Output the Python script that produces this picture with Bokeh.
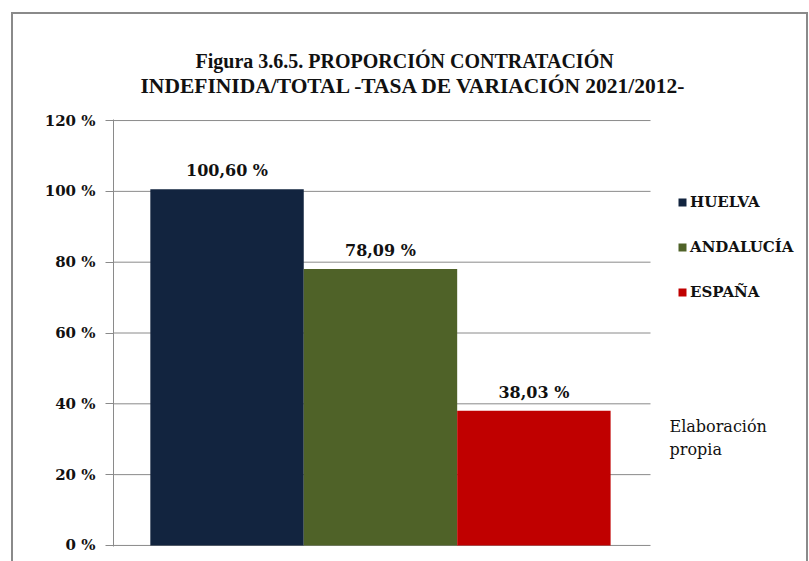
from bokeh.plotting import figure
from bokeh.models import (ColumnDataSource, Range1d, FixedTicker, PrintfTickFormatter,
                          Legend, LegendItem, Title, Label)
from bokeh.core.properties import value
from bokeh.embed import file_html
from bokeh.resources import INLINE

categories = ["HUELVA", "ANDALUCÍA", "ESPAÑA"]
values = [100.60, 78.09, 38.03]
colors = ["#12243F", "#4F6228", "#C00000"]
y_ticks = [0, 20, 40, 60, 80, 100, 120]
title_lines = ["Figura 3.6.5. PROPORCIÓN CONTRATACIÓN",
               "INDEFINIDA/TOTAL -TASA DE VARIACIÓN 2021/2012-"]
note = "Elaboración\npropia"

# category slots: bars of width 1 centred at i + 0.5, with padding either side
PAD_L, PAD_R = 0.24, 0.26
xpos = [i + 0.5 for i in range(len(categories))]
area_lo, area_hi = -PAD_L, len(categories) + PAD_R
labels = [f"{v:.2f} %".replace(".", ",") for v in values]
src = ColumnDataSource(dict(x=xpos, cat=categories, val=values, color=colors, label=labels))

TFONT = "Liberation Serif"
SERIF = "DejaVu Serif"
TXT = "#111111"
GRAY = "#8a8a8a"

border_css = (f"linear-gradient({GRAY},{GRAY}) 11px 12px / 797px 2px no-repeat, "
              f"linear-gradient({GRAY},{GRAY}) 11px 12px / 2px 560px no-repeat, "
              f"linear-gradient({GRAY},{GRAY}) 806px 12px / 2px 560px no-repeat, #ffffff")

# plot area 537 px wide; frame extends 158 px further right for legend/note
unit_px = 537 / (area_hi - area_lo)
x_end = area_hi + 158 / unit_px

p = figure(width=809, height=561, output_backend="svg", toolbar_location=None,
           x_range=Range1d(area_lo, x_end), y_range=Range1d(-0.3, 120.3),
           min_border_left=113, min_border_right=1, min_border_top=119, min_border_bottom=15)
p.title = None
p.outline_line_color = None
p.background_fill_color = None
p.border_fill_color = None
p.styles = {"background": border_css}

# horizontal gridlines over the plot area only
p.segment(x0=[area_lo] * len(y_ticks), x1=[area_hi] * len(y_ticks), y0=y_ticks, y1=y_ticks,
          line_color=GRAY, line_width=1)

r = p.vbar(x="x", top="val", width=1.0, color="color", line_color=None, source=src)
p.text(x="x", y="val", text="label", source=src, text_align="center", text_baseline="bottom",
       y_offset=-9, text_font=value(SERIF), text_font_style="bold", text_font_size="16px",
       text_color=TXT)

p.xaxis.visible = False
p.xgrid.visible = False
p.ygrid.visible = False
yax = p.yaxis[0]
yax.ticker = FixedTicker(ticks=y_ticks)
yax.formatter = PrintfTickFormatter(format="%d %%")
yax.axis_line_color = GRAY
yax.major_tick_line_color = GRAY
yax.major_tick_out = 8
yax.major_tick_in = 0
yax.minor_tick_line_color = None
yax.major_label_text_font = SERIF
yax.major_label_text_font_style = "bold"
yax.major_label_text_font_size = "15px"
yax.major_label_text_color = TXT
yax.major_label_standoff = 10

legend = Legend(items=[LegendItem(label=c, renderers=[r], index=i) for i, c in enumerate(categories)],
                location=(564, 244), orientation="vertical",
                glyph_width=10, glyph_height=10, label_height=20, spacing=25,
                label_standoff=3, padding=0, margin=0,
                border_line_color=None, background_fill_alpha=0,
                label_text_font=SERIF, label_text_font_style="bold", label_text_font_size="15px",
                label_text_color=TXT)
p.add_layout(legend)

p.add_layout(Label(x=556, y=130, x_units="screen", y_units="screen", text=note,
                   text_align="left", text_baseline="top", text_line_height=1.25,
                   text_font=SERIF, text_font_size="16px", text_color=TXT))

# spacer between frame and title lines, then the two title lines (closest to frame first)
p.add_layout(Title(text=" ", text_font_size="8px", standoff=11), "above")
p.add_layout(Title(text=title_lines[1], align="left", offset=27, standoff=0,
                   text_font=TFONT, text_font_style="bold", text_font_size="21.5px",
                   text_color=TXT), "above")
p.add_layout(Title(text=title_lines[0], align="left", offset=82, standoff=0,
                   text_font=TFONT, text_font_style="bold", text_font_size="20px",
                   text_color=TXT), "above")

open("out.html", "w").write(file_html(p, INLINE))
